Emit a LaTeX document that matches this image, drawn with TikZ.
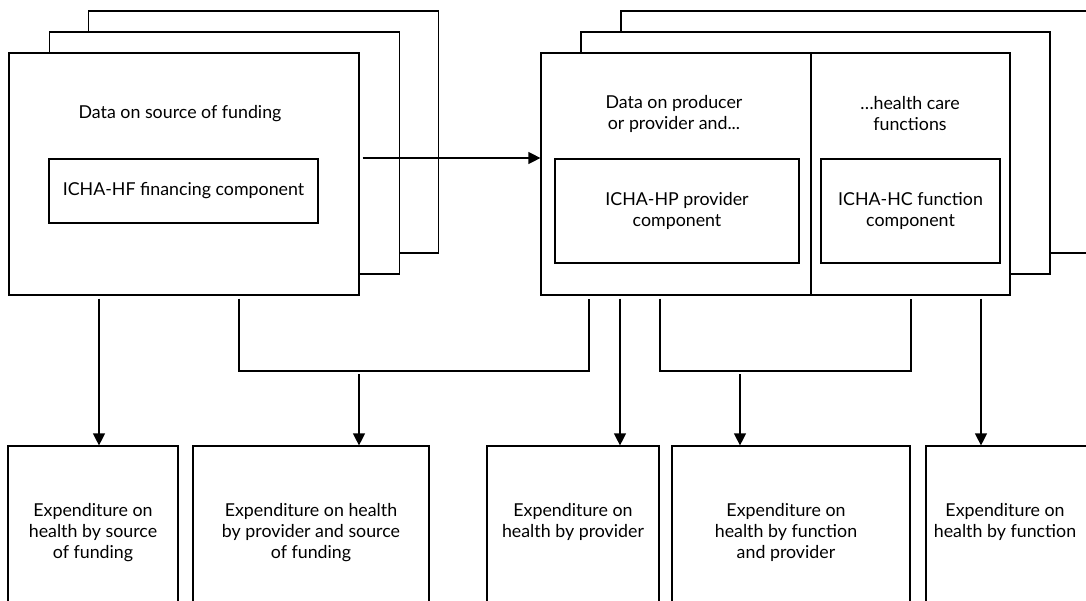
\documentclass[tikz,border=0pt]{standalone}
\usepackage{fontspec}
\setmainfont{Lato}
\usetikzlibrary{arrows.meta, positioning}

\begin{document}
\begin{tikzpicture}[
  x=1pt, y=-1pt,
  sheet/.style={rectangle, draw, fill=white, line width=1.2pt, inner sep=0pt,
                minimum width=#1, minimum height=242pt},
  inbox/.style={rectangle, draw, line width=1.2pt, align=center, inner sep=0pt,
                font=\fontsize{17.8}{21}\selectfont},
  outbox/.style={rectangle, draw, line width=1.2pt, inner sep=0pt,
                 minimum width=#1, minimum height=180pt},
  lbl/.style={align=center, inner sep=0pt, font=\fontsize{17.8}{21}\selectfont},
  link/.style={line width=1.2pt, shorten <=3pt},
  arr/.style={link, -{Triangle[length=12pt, width=12pt]}}
]
\useasboundingbox (0,0) rectangle (1086,600);
\clip (0,0) rectangle (1086,600);

% source of funding stack
\node[sheet=350pt] (backL)  at (263.5,132) {};
\node[sheet=350pt] (midL)   at (224.5,153) {};
\node[sheet=350pt] (frontL) at (184,174) {};
\node[inbox, minimum width=269pt, minimum height=64pt] (hfBox) at (183.5,191) {ICHA-HF financing component};
\node[lbl] (srcLbl) at (180,114) {Data on source of funding};

% provider / function stack
\node[sheet=469pt] (backR)  at (855.5,132) {};
\node[sheet=469pt] (midR)   at (815.5,153) {};
\node[sheet=469pt] (frontR) at (775.5,174) {};
\draw[line width=1.2pt] ([xshift=35.5pt]frontR.north) -- ([xshift=35.5pt]frontR.south);
\node[inbox, minimum width=244pt, minimum height=104pt] (hpBox) at (677,211) {ICHA-HP provider\\component};
\node[inbox, minimum width=179pt, minimum height=104pt] (hcBox) at (910.5,211) {ICHA-HC function\\component};
\node[lbl] (prodLbl) at (674,114) {Data on producer\\or provider and...};
\node[lbl] (funcLbl) at (910,114) {…health care\\functions};

% output tables
\node[outbox=170pt] (exSrc)      at (93,536) {};
\node[outbox=236pt] (exProvSrc)  at (311,536) {};
\node[outbox=172pt] (exProv)     at (573,536) {};
\node[outbox=238pt] (exFuncProv) at (791,536) {};
\node[outbox=174pt] (exFunc)     at (1013,536) {};

\node[lbl, below=58pt of exSrc.north] (exSrcTxt) {Expenditure on\\health by source\\of funding};
\node[lbl, below=58pt of exProvSrc.north] (exProvSrcTxt) {Expenditure on health\\by provider and source\\of funding};
\node[lbl, below=58pt of exProv.north] (exProvTxt) {Expenditure on\\health by provider};
\node[lbl, below=58pt of exFuncProv.north, xshift=-5pt] (exFuncProvTxt) {Expenditure on\\health by function\\and provider};
\node[lbl, below=58pt of exFunc.north, xshift=-8pt] (exFuncTxt) {Expenditure on\\health by function};

% drop points
\coordinate (dSrc)  at ([xshift=-85pt]frontL.south);
\coordinate (dL1)   at ([xshift=55pt]frontL.south);
\coordinate (dL2)   at ([xshift=-186.5pt]frontR.south);
\coordinate (dProv) at ([xshift=-155.5pt]frontR.south);
\coordinate (dR1)   at ([xshift=-115.5pt]frontR.south);
\coordinate (dR2)   at ([xshift=135.5pt]frontR.south);
\coordinate (dFunc) at ([xshift=205.5pt]frontR.south);
\coordinate (jL) at (359,371);
\coordinate (jR) at (740,371);

\draw[arr] ([yshift=16pt]frontL.east) -- ([yshift=16pt]frontR.west);

\draw[arr] (dSrc) -- (dSrc |- exSrc.north);
\draw[link, shorten >=3pt] (dL1) |- (jL) -| (dL2);
\draw[arr] (jL) -- (jL |- exProvSrc.north);
\draw[arr] (dProv) -- (dProv |- exProv.north);
\draw[link, shorten >=3pt] (dR1) |- (jR) -| (dR2);
\draw[arr] (jR) -- (jR |- exFuncProv.north);
\draw[arr] (dFunc) -- (dFunc |- exFunc.north);

\end{tikzpicture}
\end{document}
